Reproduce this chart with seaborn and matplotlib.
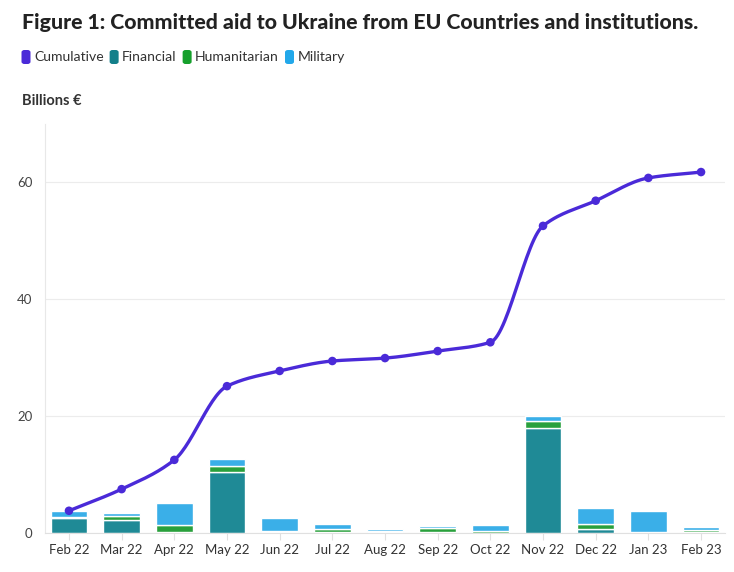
import numpy as np
import pandas as pd
import matplotlib
matplotlib.use("Agg")
import matplotlib.pyplot as plt
import seaborn as sns
from matplotlib.patches import FancyBboxPatch

months = ["Feb 22", "Mar 22", "Apr 22", "May 22", "Jun 22", "Jul 22", "Aug 22",
          "Sep 22", "Oct 22", "Nov 22", "Dec 22", "Jan 23", "Feb 23"]
financial = [2.6, 2.2, 0.2, 10.5, 0.1, 0.1, 0.1, 0.1, 0.05, 18.0, 0.6, 0.05, 0.1]
humanitarian = [0.1, 0.7, 1.2, 0.9, 0.3, 0.6, 0.2, 0.7, 0.3, 1.2, 0.9, 0.15, 0.4]
military = [1.1, 0.6, 3.7, 1.2, 2.2, 0.9, 0.3, 0.4, 1.1, 0.8, 2.8, 3.5, 0.5]
cumulative = [3.8, 7.5, 12.5, 25.1, 27.7, 29.4, 29.9, 31.1, 32.6, 52.5, 56.8, 60.7, 61.7]
y_ticks = [0, 20, 40, 60]

C_CUM = "#4a2ad8"
C_FIN = "#1f8a96"
C_HUM = "#29a03c"
C_MIL = "#3aafe8"
C_FIN_L = "#137f8a"
C_HUM_L = "#16a02c"
C_MIL_L = "#22a8ea"

sns.set_theme(style="white")
plt.rcParams["font.family"] = ["Lato", "DejaVu Sans"]

df = pd.DataFrame({"month": months, "fin": financial, "hum": humanitarian,
                   "mil": military, "cum": cumulative})
df["b_hum"] = df["fin"]
df["b_mil"] = df["fin"] + df["hum"]

fig = plt.figure(figsize=(7.34, 5.72), dpi=100)
ax = fig.add_axes([45 / 734, 1 - 533 / 572, 680 / 734, (533 - 123.5) / 572])

bar_kw = dict(width=0.7, edgecolor="white", linewidth=1.0, ax=ax, saturation=1)
sns.barplot(data=df, x="month", y="fin", color=C_FIN, **bar_kw)
sns.barplot(data=df, x="month", y="hum", color=C_HUM, bottom=df["b_hum"].values, **bar_kw)
sns.barplot(data=df, x="month", y="mil", color=C_MIL, bottom=df["b_mil"].values, **bar_kw)

# smooth monotone cubic curve through the cumulative values (rendering only)
xs = np.arange(len(cumulative), dtype=float)
ys = np.array(cumulative, dtype=float)
h = np.diff(xs)
d = np.diff(ys) / h
m = np.zeros_like(ys)
m[0], m[-1] = d[0], d[-1]
for i in range(1, len(ys) - 1):
    if d[i - 1] * d[i] <= 0:
        m[i] = 0
    else:
        m[i] = 2 / (1 / d[i - 1] + 1 / d[i])
xx, yy = [], []
for i in range(len(ys) - 1):
    t = np.linspace(0, 1, 30)
    h00 = 2 * t**3 - 3 * t**2 + 1
    h10 = t**3 - 2 * t**2 + t
    h01 = -2 * t**3 + 3 * t**2
    h11 = t**3 - t**2
    xx.extend(xs[i] + t * h[i])
    yy.extend(h00 * ys[i] + h10 * h[i] * m[i] + h01 * ys[i + 1] + h11 * h[i] * m[i + 1])
ax.plot(xx, yy, color=C_CUM, lw=2.4, solid_capstyle="round", zorder=5)
sns.scatterplot(x=xs, y=ys, color=C_CUM, s=38, edgecolor="none", ax=ax, zorder=6)

ax.set_xlim(-0.455, len(months) - 1 + 0.455)
ax.set_ylim(0, 70)
ax.set_yticks(y_ticks)
ax.set_yticklabels([str(v) for v in y_ticks])
ax.set_xlabel("")
ax.set_ylabel("")
ax.grid(axis="y", color="#ececec", lw=0.8)
ax.set_axisbelow(True)
for s in ["top", "right"]:
    ax.spines[s].set_visible(False)
ax.spines["left"].set_color("#e8e8e8")
ax.spines["bottom"].set_color("#e0e0e0")
ax.spines["left"].set_linewidth(0.8)
ax.spines["bottom"].set_linewidth(0.8)
ax.tick_params(axis="y", length=5, color="#e8e8e8", width=0.8, labelsize=9.5,
               labelcolor="#444444", pad=4)
ax.tick_params(axis="x", length=5, color="#e0e0e0", width=0.8, labelsize=9.5,
               labelcolor="#333333", pad=3, bottom=True)

# Title
fig.text(22 / 734, 1 - 22 / 572, "Figure 1: Committed aid to Ukraine from EU Countries and institutions.",
         fontsize=15.3, fontweight="black", color="#222222", va="center", ha="left")
fig.text(22 / 734, 1 - 101 / 572, "Billions €", fontsize=10.5, fontweight="bold",
         color="#333333", va="center", ha="left")

# Legend
fig.canvas.draw()
renderer = fig.canvas.get_renderer()
x = 21.5
yc = 57
items = [("Cumulative", C_CUM), ("Financial", C_FIN_L), ("Humanitarian", C_HUM_L), ("Military", C_MIL_L)]
for label, col in items:
    patch = FancyBboxPatch((x / 734, (572 - yc - 7) / 572), 9 / 734, 14 / 572,
                           boxstyle="round,pad=0,rounding_size=0.004",
                           transform=fig.transFigure, facecolor=col, edgecolor="none")
    fig.patches.append(patch)
    t = fig.text((x + 12.5) / 734, 1 - yc / 572, label, fontsize=10.1, color="#333333",
                 va="center", ha="left")
    bb = t.get_window_extent(renderer)
    x = bb.x1 + 6

fig.savefig("out.png", dpi=100)
